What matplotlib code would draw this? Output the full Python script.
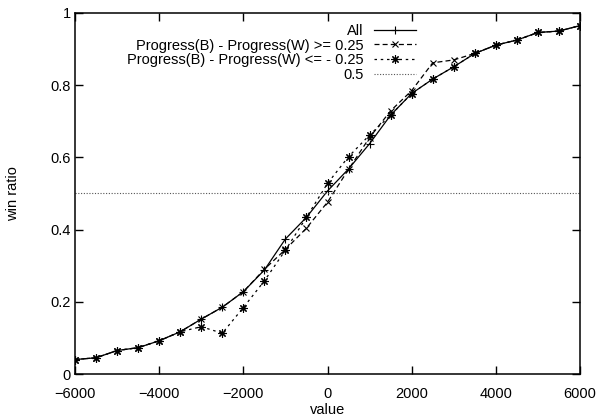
import matplotlib
matplotlib.use('Agg')
import matplotlib.pyplot as plt
from matplotlib.ticker import FormatStrFormatter, MultipleLocator

plt.rcParams['font.family'] = ['Liberation Sans', 'DejaVu Sans']

# value bins
values = [-6000, -5500, -5000, -4500, -4000, -3500, -3000, -2500, -2000, -1500,
          -1000, -500, 0, 500, 1000, 1500, 2000, 2500, 3000, 3500,
          4000, 4500, 5000, 5500, 6000]

# win ratio, all positions
win_all = [0.040, 0.045, 0.065, 0.073, 0.092, 0.117, 0.152, 0.185, 0.228, 0.288,
           0.374, 0.434, 0.507, 0.568, 0.638, 0.717, 0.777, 0.817, 0.851, 0.888,
           0.911, 0.925, 0.946, 0.950, 0.965]

# Progress(B) - Progress(W) >= 0.25
win_ge = [0.040, 0.045, 0.065, 0.073, 0.092, 0.117, 0.152, 0.185, 0.228, 0.290,
          0.345, 0.404, 0.476, 0.567, 0.655, 0.729, 0.785, 0.862, 0.870, 0.888,
          0.911, 0.925, 0.946, 0.950, 0.965]

# Progress(B) - Progress(W) <= -0.25
win_le = [0.040, 0.045, 0.065, 0.073, 0.092, 0.117, 0.131, 0.113, 0.184, 0.258,
          0.343, 0.434, 0.528, 0.602, 0.662, 0.717, 0.777, 0.817, 0.851, 0.888,
          0.911, 0.925, 0.946, 0.950, 0.965]

labels = ['All',
          'Progress(B) - Progress(W) >= 0.25',
          'Progress(B) - Progress(W) <= - 0.25',
          '0.5']

fs = 10.5

fig = plt.figure(figsize=(5.98, 4.19), dpi=100)
ax = fig.add_axes([75 / 598, 1 - 374 / 419, 505 / 598, 361 / 419])

ax.plot(values, win_all, color='black', lw=0.9, ls='-', marker='+', ms=6, mew=0.8,
        label=labels[0])
ax.plot(values, win_ge, color='black', lw=0.9, ls=(0, (4, 2.5)), marker='x', ms=5, mew=0.8,
        label=labels[1])
ax.plot(values, win_le, color='black', lw=0.9, ls=(0, (2, 3)), marker=(8, 2, 0), ms=6, mew=0.8,
        label=labels[2])
ax.axhline(0.5, color='#555555', lw=0.8, ls=(0, (1, 1.5)), label=labels[3])

ax.set_xlim(-6000, 6000)
ax.set_ylim(0, 1)
ax.xaxis.set_major_locator(MultipleLocator(2000))
ax.yaxis.set_major_locator(MultipleLocator(0.2))
ax.yaxis.set_major_formatter(FormatStrFormatter('%g'))
ax.tick_params(direction='in', length=6, width=1, top=True, right=True,
               labelsize=fs)
ax.tick_params(axis='x', pad=9)
ax.tick_params(axis='y', pad=3)
for s in ax.spines.values():
    s.set_linewidth(1.1)

ax.set_xlabel('value', fontsize=fs, labelpad=1.5)
ax.set_ylabel('win ratio', fontsize=fs, labelpad=22)

ax.legend(loc='upper right', bbox_to_anchor=(341 / 505, 0.97), frameon=False,
          markerfirst=False, fontsize=fs, handlelength=2.9, handletextpad=0.7,
          labelspacing=0.05, borderpad=0, borderaxespad=0)

fig.savefig('out.png', dpi=100)
